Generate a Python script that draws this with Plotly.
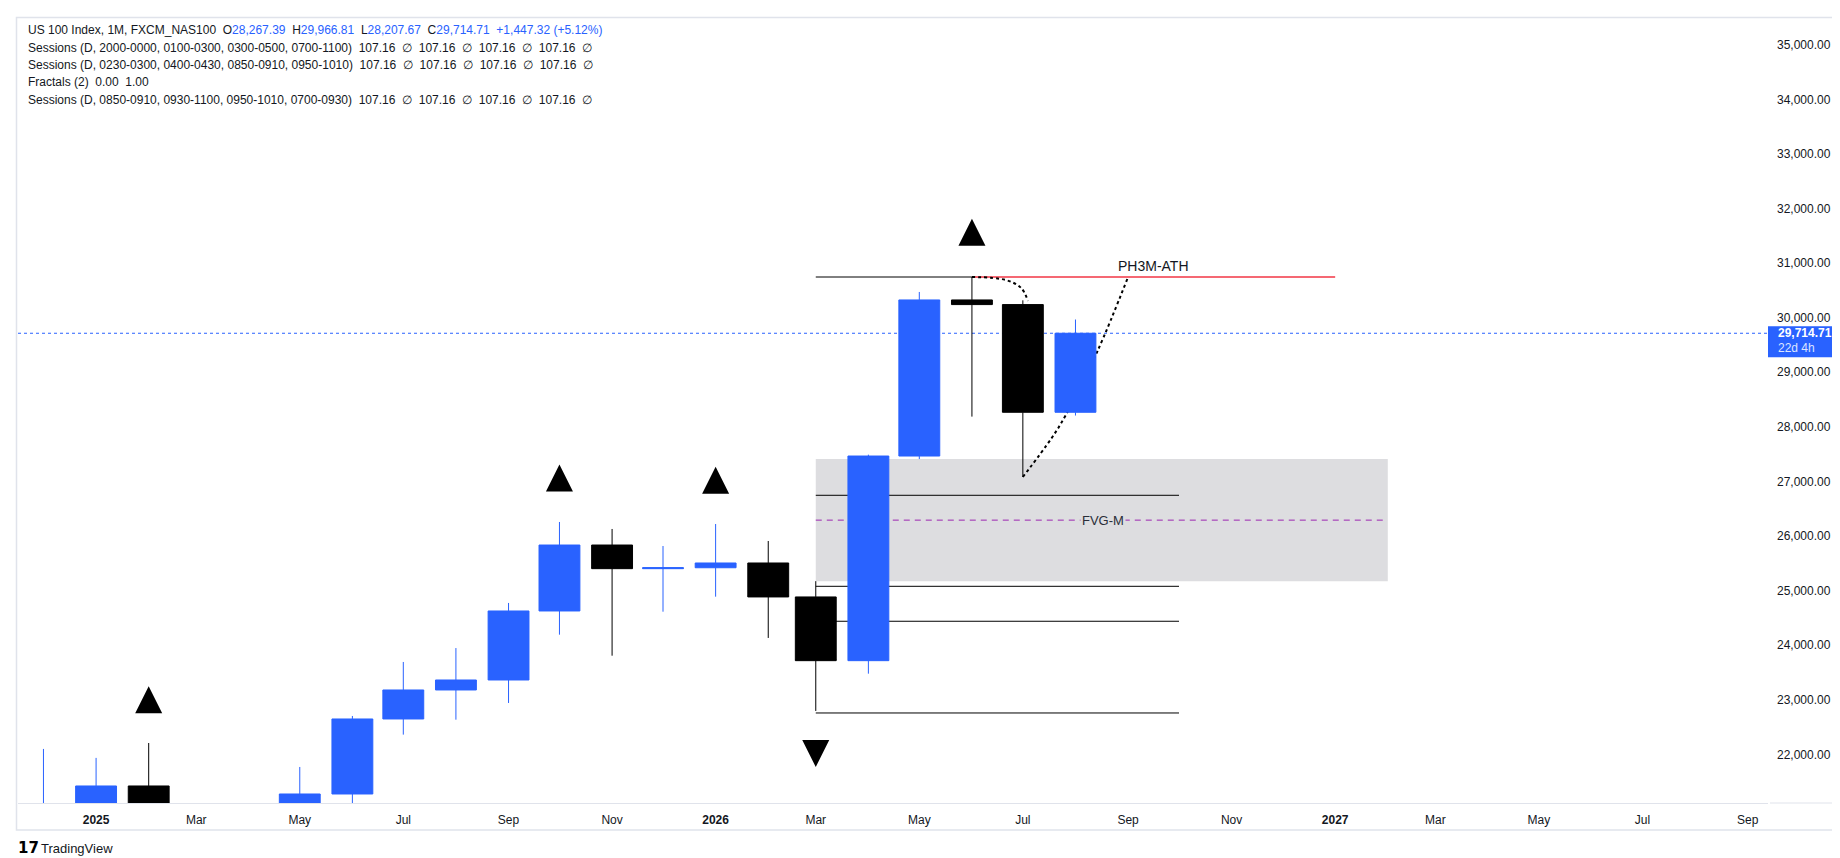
import plotly.graph_objects as go

# --- monthly bars, US 100 (FXCM_NAS100) ---
months = ["2024-12-01", "2025-01-01", "2025-02-01", "2025-03-01", "2025-04-01",
          "2025-05-01", "2025-06-01", "2025-07-01", "2025-08-01", "2025-09-01",
          "2025-10-01", "2025-11-01", "2025-12-01", "2026-01-01", "2026-02-01",
          "2026-03-01", "2026-04-01", "2026-05-01", "2026-06-01", "2026-07-01",
          "2026-08-01"]
opens = [20900, 21012, 21423, 20884, 19278, 19571, 21276, 22650, 23181, 23364,
         24628, 25836, 25403, 25420, 25507, 24885, 23718, 27466, 30325, 30240,
         28267.39]
highs = [22101, 21937, 22210, 21050, 20200, 21771, 22705, 23694, 23949, 24775,
         26258, 26130, 25818, 26221, 25910, 25174, 27491, 30471, 30745, 30318,
         29966.81]
lows = [20680, 20540, 20700, 19150, 16540, 19300, 21080, 22363, 22637, 22943,
        24194, 23809, 24615, 24890, 24134, 22797, 23480, 27410, 28188, 27082,
        28207.67]
closes = [21012, 21423, 20884, 19278, 19571, 21276, 22650, 23181, 23364, 24628,
          25836, 25403, 25420, 25507, 24885, 23718, 27466, 30325, 30240, 28267.39,
          29714.71]

# fractals: price at the tip of each triangle
frac_up_months = ["2025-02-01", "2025-10-01", "2026-01-01", "2026-06-01"]
frac_up_tip = [23249, 27312, 27271, 31813]
frac_dn_months = ["2026-03-01"]
frac_dn_tip = [21771]

# drawings
ath_level = 30745
ath_start, ath_pivot, ath_end = "2026-03-01", "2026-06-01", "2027-01-01"
ath_label, ath_label_at = "PH3M-ATH", "2026-09-16"
level_prices = [26747, 25080, 24440, 22760]
level_start, level_end = "2026-03-01", "2026-10-01"
fvg_low, fvg_high = 25174, 27410
fvg_start, fvg_end = "2026-03-01", "2027-02-01"
fvg_label, fvg_label_at = "FVG-M", "2026-08-17"

path1_x = ["2026-06-01", "2026-06-21", "2026-06-30", "2026-07-04"]
path1_y = [30745, 30690, 30544, 30306]
path2_x = ["2026-07-01", "2026-07-18", "2026-07-26", "2026-08-14", "2026-09-01"]
path2_y = [27082, 27797, 28200, 29390, 30745]

# axes
tick_dates = ["2025-01-01", "2025-03-01", "2025-05-01", "2025-07-01", "2025-09-01",
              "2025-11-01", "2026-01-01", "2026-03-01", "2026-05-01", "2026-07-01",
              "2026-09-01", "2026-11-01", "2027-01-01", "2027-03-01", "2027-05-01",
              "2027-07-01", "2027-09-01"]
tick_text = ["<b>2025</b>", "Mar", "May", "Jul", "Sep", "Nov", "<b>2026</b>", "Mar",
             "May", "Jul", "Sep", "Nov", "<b>2027</b>", "Mar", "May", "Jul", "Sep"]
x_view = ["2024-11-16", "2027-09-13"]
y_view = [21111, 35489]

session_lines = [
    "Sessions (D, 2000-0000, 0100-0300, 0300-0500, 0700-1100)",
    "Sessions (D, 0230-0300, 0400-0430, 0850-0910, 0950-1010)",
    "Fractals (2)",
    "Sessions (D, 0850-0910, 0930-1100, 0950-1010, 0700-0930)",
]
session_values = ["107.16 \u2205 107.16 \u2205 107.16 \u2205 107.16 \u2205",
                  "107.16 \u2205 107.16 \u2205 107.16 \u2205 107.16 \u2205",
                  "0.00 1.00",
                  "107.16 \u2205 107.16 \u2205 107.16 \u2205 107.16 \u2205"]
countdown = "22d 4h"

BLUE = "#2962ff"
TXT = "#131722"
FONT = "Liberation Sans, Arial, sans-serif"

W, H = 1840, 858
ML, MR, MT, MB = 10, 80, 10, 63


def px_x(x):
    return (x - ML) / (W - ML - MR)


def px_y(y):
    return 1 - (y - MT) / (H - MT - MB)


fig = go.Figure()

# hand-drawn dotted paths (sit under the candles)
for xs, ys in [(path1_x, path1_y), (path2_x, path2_y)]:
    fig.add_trace(go.Scatter(x=xs, y=ys, mode="lines", yaxis="y",
                             line=dict(color="black", width=2, dash="3px,3px", shape="spline"),
                             hoverinfo="skip"))

fig.add_trace(go.Candlestick(
    x=months, open=opens, high=highs, low=lows, close=closes, yaxis="y2",
    increasing=dict(line=dict(color=BLUE, width=1), fillcolor=BLUE),
    decreasing=dict(line=dict(color="black", width=1), fillcolor="black"),
    whiskerwidth=0))

fig.add_trace(go.Scatter(x=frac_up_months, y=frac_up_tip, mode="markers", yaxis="y2",
                         marker=dict(symbol="arrow-up", size=27, color="black",
                                     line=dict(width=0)), hoverinfo="skip"))
fig.add_trace(go.Scatter(x=frac_dn_months, y=frac_dn_tip, mode="markers", yaxis="y2",
                         marker=dict(symbol="arrow-down", size=27, color="black",
                                     line=dict(width=0)), hoverinfo="skip"))

shapes = []
# FVG zone + midline
shapes.append(dict(type="rect", xref="x", yref="y", x0=fvg_start, x1=fvg_end,
                   y0=fvg_low, y1=fvg_high, fillcolor="#dddde0", line=dict(width=0),
                   layer="below"))
fvg_mid = (fvg_low + fvg_high) / 2
shapes.append(dict(type="line", xref="x", yref="y", x0=fvg_start, x1=fvg_end,
                   y0=fvg_mid, y1=fvg_mid, line=dict(color="#9c27b0", width=1, dash="6px,5px"),
                   layer="below"))
for p in level_prices:
    shapes.append(dict(type="line", xref="x", yref="y", x0=level_start, x1=level_end,
                       y0=p, y1=p, line=dict(color="black", width=1), layer="below"))
shapes.append(dict(type="line", xref="x", yref="y", x0=ath_start, x1=ath_pivot,
                   y0=ath_level, y1=ath_level, line=dict(color="black", width=1), layer="below"))
shapes.append(dict(type="line", xref="x", yref="y", x0=ath_pivot, x1=ath_end,
                   y0=ath_level, y1=ath_level, line=dict(color="#f23645", width=1.5), layer="below"))
# last price line
shapes.append(dict(type="line", xref="paper", yref="y", x0=0, x1=1,
                   y0=closes[-1], y1=closes[-1], line=dict(color=BLUE, width=1, dash="dot"),
                   layer="below"))
# last price tag box on the price scale
shapes.append(dict(type="rect", xref="paper", yref="y", x0=1, x1=px_x(1826),
                   ysizemode="pixel", yanchor=closes[-1], y0=-24, y1=7,
                   fillcolor=BLUE, line=dict(width=0)))
# chart frame and price-scale bottom edge
shapes.append(dict(type="rect", xref="paper", yref="paper", x0=px_x(8.5), x1=px_x(1829.5),
                   y0=px_y(822), y1=px_y(9.5), line=dict(color="#e0e3eb", width=1.5)))
shapes.append(dict(type="line", xref="paper", yref="paper", x0=px_x(1762), x1=px_x(1829),
                   y0=0, y1=0, line=dict(color="#e0e3eb", width=1)))

annotations = []
# legend block
prev = closes[-2]
chg = closes[-1] - prev
head = ("US 100 Index, 1M, FXCM_NAS100\u00a0\u00a0"
        f"O<span style='color:{BLUE}'>{opens[-1]:,.2f}</span>\u00a0\u00a0"
        f"H<span style='color:{BLUE}'>{highs[-1]:,.2f}</span>\u00a0\u00a0"
        f"L<span style='color:{BLUE}'>{lows[-1]:,.2f}</span>\u00a0\u00a0"
        f"C<span style='color:{BLUE}'>{closes[-1]:,.2f}</span>\u00a0\u00a0"
        f"<span style='color:{BLUE}'>{chg:+,.2f} ({chg / prev * 100:+.2f}%)</span>")
legend_rows = [head] + [
    name + "\u00a0\u00a0" + vals.replace(" ", "\u00a0\u00a0")
    for name, vals in zip(session_lines, session_values)]
for i, row in enumerate(legend_rows):
    annotations.append(dict(xref="paper", yref="paper", x=px_x(18), y=px_y(22.3 + i * 17.4),
                            xanchor="left", yanchor="middle", showarrow=False, text=row,
                            font=dict(family=FONT, size=12, color=TXT)))

annotations.append(dict(xref="x", yref="y", x=ath_label_at, y=ath_level, yanchor="bottom",
                        yshift=1, showarrow=False, text=ath_label,
                        font=dict(family=FONT, size=14, color=TXT)))
annotations.append(dict(xref="x", yref="y", x=fvg_label_at, y=fvg_mid, yanchor="middle",
                        showarrow=False, text=fvg_label, bgcolor="#dddde0", borderpad=1,
                        font=dict(family=FONT, size=13, color="#2a2e39")))
# last price tag text
annotations.append(dict(xref="paper", yref="y", x=1, xshift=8, y=closes[-1], xanchor="left",
                        yanchor="middle", showarrow=False, text=f"<b>{closes[-1]:,.2f}</b>",
                        font=dict(family=FONT, size=12, color="white")))
annotations.append(dict(xref="paper", yref="y", x=1, xshift=8, y=closes[-1], yshift=-15,
                        xanchor="left", yanchor="middle", showarrow=False, text=countdown,
                        font=dict(family=FONT, size=12, color="#dce4ff")))
# TradingView mark
annotations.append(dict(xref="paper", yref="paper", x=px_x(8), y=px_y(840), xanchor="left",
                        yanchor="middle", showarrow=False, text="<b>17</b>",
                        font=dict(family="DejaVu Sans", size=15, color="black")))
annotations.append(dict(xref="paper", yref="paper", x=px_x(31), y=px_y(840), xanchor="left",
                        yanchor="middle", showarrow=False, text="TradingView",
                        font=dict(family=FONT, size=13, color=TXT)))

fig.update_layout(
    width=W, height=H,
    margin=dict(l=ML, r=MR, t=MT, b=MB),
    paper_bgcolor="white", plot_bgcolor="white",
    showlegend=False, hovermode=False,
    boxgap=0.14, boxgroupgap=0,
    font=dict(family=FONT, size=12, color=TXT),
    xaxis=dict(type="date", range=x_view, tickvals=tick_dates, ticktext=tick_text,
               showgrid=False, zeroline=False, showline=True, linecolor="#e0e3eb",
               linewidth=1, ticks="", ticklabelstandoff=6,
               tickfont=dict(family=FONT, size=12, color=TXT),
               rangeslider=dict(visible=False)),
    yaxis=dict(range=y_view, side="right", dtick=1000, tick0=0, tickformat=",.2f",
               showgrid=False, zeroline=False, showline=False, ticks="",
               ticklabelstandoff=8, tickfont=dict(family=FONT, size=12, color=TXT)),
    yaxis2=dict(range=y_view, overlaying="y", side="right", visible=False),
    shapes=shapes, annotations=annotations,
)

fig.write_html("out.html")
